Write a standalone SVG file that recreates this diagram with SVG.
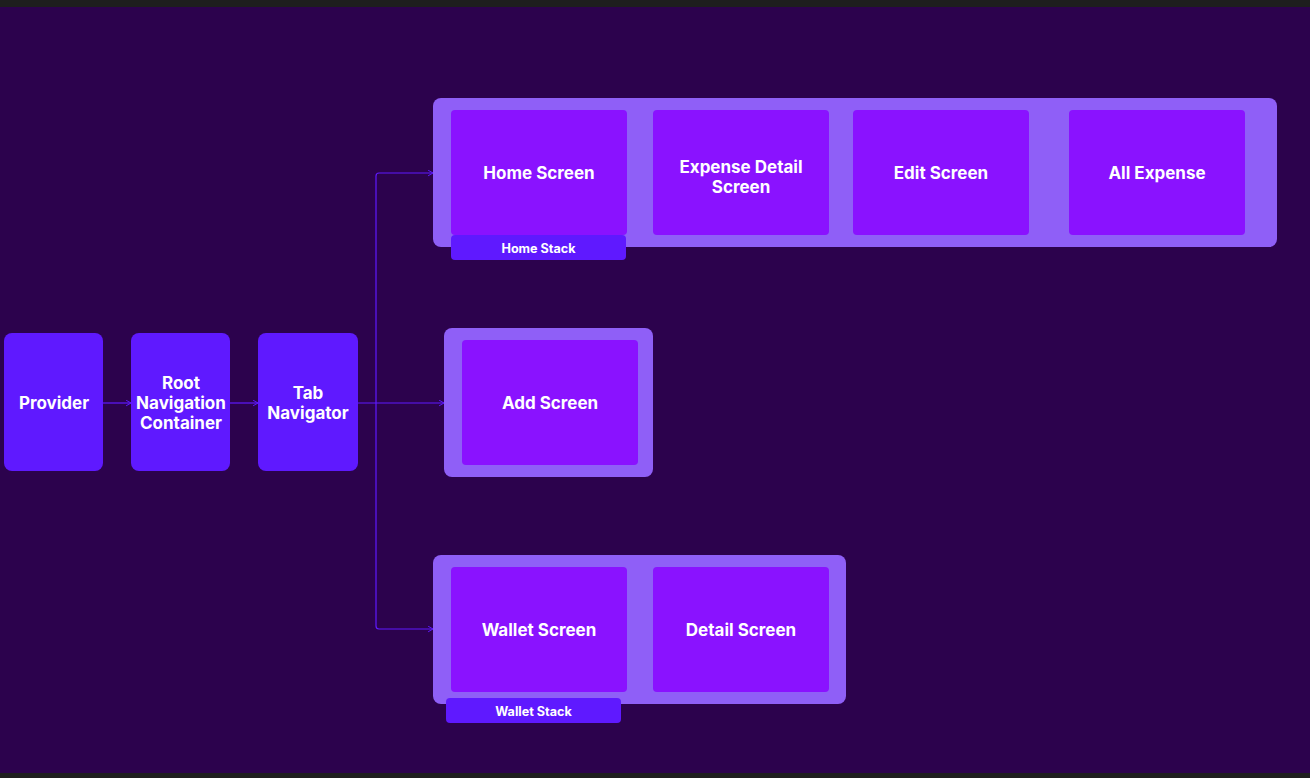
<svg xmlns="http://www.w3.org/2000/svg" width="1310" height="778" viewBox="0 0 1310 778">
<defs>
<style>
.bg{fill:#2c024d}
.bar{fill:#1e1e1e}
.nav{fill:#5f19ff}
.cont{fill:#8f5ff7}
.scr{fill:#8a12ff}
.lbl{fill:#5f19ff}
.t{font-family:Inter,"Liberation Sans",sans-serif;font-weight:700;fill:#ffffff;text-anchor:middle;dominant-baseline:central}
.t17{font-size:17px}
.t12{font-size:12.6px}
.edge{fill:none;stroke:#5f19ff;stroke-width:1.2}
</style>
<marker id="arr" viewBox="0 0 10 10" refX="9" refY="5" markerWidth="7" markerHeight="7" orient="auto" markerUnits="userSpaceOnUse">
<path d="M2,1 L9,5 L2,9" fill="none" stroke="#5f19ff" stroke-width="1.4"/>
</marker>
</defs>
<rect class="bg" x="0" y="0" width="1310" height="778"/>
<rect class="bar" x="0" y="0" width="1310" height="7"/>
<rect class="bar" x="0" y="773" width="1310" height="5"/>

<g id="connectors">
<path class="edge" d="M103,403 H131" marker-end="url(#arr)"/>
<path class="edge" d="M230,403 H258" marker-end="url(#arr)"/>
<path class="edge" d="M358,403 H444" marker-end="url(#arr)"/>
<path class="edge" d="M376,403 V176 Q376,173 379,173 H433" marker-end="url(#arr)"/>
<path class="edge" d="M376,403 V626 Q376,629 379,629 H433" marker-end="url(#arr)"/>
</g>

<g id="provider">
<rect class="nav" x="4" y="333" width="99" height="138" rx="8"/>
<text class="t t17" x="54" y="403">Provider</text>
</g>
<g id="root-navigation-container">
<rect class="nav" x="131" y="333" width="99" height="138" rx="8"/>
<text class="t t17" x="181" y="383">Root</text>
<text class="t t17" x="181" y="403">Navigation</text>
<text class="t t17" x="181" y="423">Container</text>
</g>
<g id="tab-navigator">
<rect class="nav" x="258" y="333" width="100" height="138" rx="8"/>
<text class="t t17" x="308" y="393">Tab</text>
<text class="t t17" x="308" y="413">Navigator</text>
</g>

<g id="home-stack">
<rect class="cont" x="433" y="98" width="844" height="149" rx="8"/>
<g id="home-screen">
<rect class="scr" x="451" y="110" width="176" height="125" rx="4"/>
<text class="t t17" x="539" y="173">Home Screen</text>
</g>
<g id="expense-detail-screen">
<rect class="scr" x="653" y="110" width="176" height="125" rx="4"/>
<text class="t t17" x="741" y="167">Expense Detail</text>
<text class="t t17" x="741" y="187">Screen</text>
</g>
<g id="edit-screen">
<rect class="scr" x="853" y="110" width="176" height="125" rx="4"/>
<text class="t t17" x="941" y="173">Edit Screen</text>
</g>
<g id="all-expense">
<rect class="scr" x="1069" y="110" width="176" height="125" rx="4"/>
<text class="t t17" x="1157" y="173">All Expense</text>
</g>
<g id="home-stack-label">
<rect class="lbl" x="451" y="235" width="175" height="25" rx="4"/>
<text class="t t12" x="538.5" y="248">Home Stack</text>
</g>
</g>

<g id="add-stack">
<rect class="cont" x="444" y="328" width="209" height="149" rx="8"/>
<g id="add-screen">
<rect class="scr" x="462" y="340" width="176" height="125" rx="4"/>
<text class="t t17" x="550" y="403">Add Screen</text>
</g>
</g>

<g id="wallet-stack">
<rect class="cont" x="433" y="555" width="413" height="149" rx="8"/>
<g id="wallet-screen">
<rect class="scr" x="451" y="567" width="176" height="125" rx="4"/>
<text class="t t17" x="539" y="630">Wallet Screen</text>
</g>
<g id="detail-screen">
<rect class="scr" x="653" y="567" width="176" height="125" rx="4"/>
<text class="t t17" x="741" y="630">Detail Screen</text>
</g>
<g id="wallet-stack-label">
<rect class="lbl" x="446" y="698" width="175" height="25" rx="4"/>
<text class="t t12" x="533.5" y="711">Wallet Stack</text>
</g>
</g>
</svg>
